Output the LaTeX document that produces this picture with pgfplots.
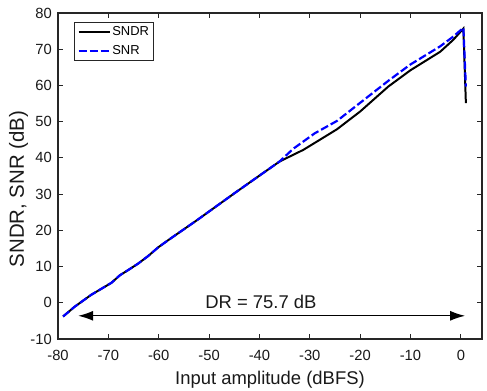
\documentclass[border=0pt]{standalone}
\usepackage{pgfplots}
\pgfplotsset{compat=1.18}
\usetikzlibrary{arrows.meta}
\usepackage{fontspec}
\setmainfont{Liberation Sans}
\definecolor{axgray}{RGB}{38,38,38}
\begin{document}
\begin{tikzpicture}
\begin{axis}[
  scale only axis,
  width=424bp, height=326bp,
  xmin=-80, xmax=4.2, ymin=-10, ymax=80,
  xtick={-80,-70,...,0}, ytick={-10,0,...,80},
  tick align=inside,
  major tick length=5bp,
  axis line style={line width=1.3pt, draw=axgray},
  every tick/.style={line width=1pt, axgray},
  tick label style={font=\fontsize{14.8}{16}\selectfont, inner sep=0pt, text=black!90},
  xticklabel style={anchor=base, yshift=-21.7bp},
  yticklabel style={anchor=east, xshift=-6bp},
  /pgf/number format/assume math mode=true,
  xlabel={Input amplitude (dBFS)},
  ylabel={SNDR, SNR (dB)},
  every axis x label/.style={at={([yshift=-46bp]axis description cs:0.5,0)}, anchor=base, font=\fontsize{18.5}{20}\selectfont, text=black!90},
  every axis y label/.style={at={([xshift=-34bp]axis description cs:0,0.46)}, rotate=90, anchor=base, font=\fontsize{20.5}{22}\selectfont, text=black!90},
  legend style={at={(axis description cs:0.0377,0.973)}, anchor=north west,
    font=\fontsize{13}{14}\selectfont,
    draw=axgray, line width=1.2pt, inner xsep=3pt, inner ysep=3.5pt,
    nodes={inner sep=0pt, text height=9.5bp, text depth=2.5bp, inner xsep=1.5bp},
    row sep=7bp},
  legend image code/.code={\draw[#1] (0bp,0bp) -- (31bp,0bp);},
  legend cell align=left,
]
\coordinate (sw) at (rel axis cs:0,0);
\coordinate (ne) at (rel axis cs:1,1);
\addplot[black, line width=2pt] coordinates {
(-79,-3.8) (-76.7,-1.1) (-73.4,2.2) (-69.4,5.5) (-67.7,7.6) (-66.1,9.0) (-64.1,10.8) (-62.1,12.9) (-60.1,15.3) (-58.1,17.3) (-52.4,22.8) (-45,30.2) (-40,35.1) (-36,39)
(-31.3,42.2) (-28,45) (-24.6,47.9) (-20,52.8) (-14.4,59.7) (-10,64.2) (-4.1,69.3) (-1.5,72.6) (0.5,75.7) (1.0,55.1)
};
\addlegendentry{SNDR}
\addplot[blue, line width=2.2pt, dash pattern=on 8bp off 3bp] coordinates {
(-79,-3.8) (-76.7,-1.1) (-73.4,2.2) (-69.4,5.5) (-67.7,7.6) (-66.1,9.0) (-64.1,10.8) (-62.1,12.9) (-60.1,15.3) (-58.1,17.3) (-52.4,22.8) (-45,30.2) (-40,35.1) (-36,39)
(-33.3,42.5) (-29,46.8) (-24.6,50.2) (-20,55.2) (-14.2,61.5) (-10,65.8) (-4.1,70.8) (-1.5,73.5) (0.5,75.9) (1.0,59.7)
};
\addlegendentry{SNR}
\draw[-{Latex[length=15bp,width=10bp]}, line width=1.3pt] (axis cs:-40,-3.6) -- (axis cs:-76,-3.6);
\draw[-{Latex[length=15bp,width=10bp]}, line width=1.3pt] (axis cs:-40,-3.6) -- (axis cs:0.85,-3.6);
\node[font=\fontsize{18.5}{20}\selectfont, anchor=base, inner sep=0pt, text=black!90] at (axis cs:-39.7,-1.52) {DR = 75.7 dB};
\end{axis}
\pgfresetboundingbox
\path[use as bounding box] ([shift={(-58bp,-52bp)}]sw) rectangle ([shift={(5bp,13bp)}]ne);
\end{tikzpicture}
\end{document}
